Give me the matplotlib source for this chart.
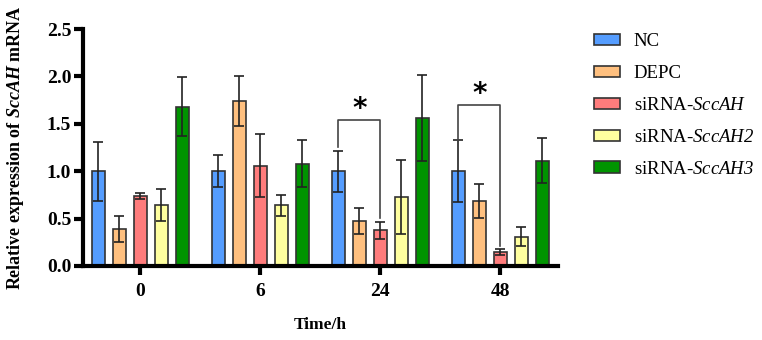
import numpy as np
import matplotlib
matplotlib.use("Agg")
import matplotlib.pyplot as plt
from matplotlib.patches import Patch

plt.rcParams['font.family'] = ['Liberation Serif', 'DejaVu Serif']
plt.rcParams['mathtext.fontset'] = 'custom'
plt.rcParams['mathtext.rm'] = 'Liberation Serif:italic'
plt.rcParams['mathtext.it'] = 'Liberation Serif:italic'
plt.rcParams['mathtext.bf'] = 'Liberation Serif:bold'
plt.rcParams['mathtext.bfit'] = 'Liberation Serif:italic:bold'

# ---- data ----
time_labels = ['0', '6', '24', '48']
series_names = ['NC', 'DEPC', 'siRNA-SccAH', 'siRNA-SccAH2', 'siRNA-SccAH3']
legend_labels = ['NC', 'DEPC', r'siRNA-$\mathit{SccAH}$', r'siRNA-$\mathit{SccAH2}$', r'siRNA-$\mathit{SccAH3}$']
nc_mean = [1.00, 1.00, 1.00, 1.00]
nc_err = [0.31, 0.17, 0.215, 0.325]
depc_mean = [0.39, 1.74, 0.475, 0.69]
depc_err = [0.14, 0.26, 0.14, 0.18]
sih1_mean = [0.74, 1.06, 0.377, 0.148]
sih1_err = [0.03, 0.33, 0.09, 0.03]
sih2_mean = [0.64, 0.64, 0.725, 0.31]
sih2_err = [0.17, 0.11, 0.39, 0.10]
sih3_mean = [1.68, 1.08, 1.56, 1.11]
sih3_err = [0.31, 0.25, 0.45, 0.235]

# significance brackets: group index, bracket height, left/right leg ends
sig_groups = [2, 3]
sig_height = [1.545, 1.70]
sig_left_end = [1.26, 1.32]
sig_right_end = [0.51, 0.21]
sig_text = ['*', '*']

colors = ['#559DFF', '#FFC07F', '#FF7C7C', '#FFFF9F', '#009400']

means = [nc_mean, depc_mean, sih1_mean, sih2_mean, sih3_mean]
errs = [nc_err, depc_err, sih1_err, sih2_err, sih3_err]

fig = plt.figure(figsize=(7.62, 3.40), dpi=100)
ax = fig.add_axes([83/762, 1-266/340, 475/762, 237/340])

x = np.arange(len(time_labels))
pitch = 0.175
width = 0.114
offsets = (np.arange(5) - 2) * pitch

for i in range(5):
    ax.bar(x + offsets[i], means[i], width=width, color=colors[i],
           edgecolor='#333333', linewidth=1.2, zorder=2)
    ax.errorbar(x + offsets[i], means[i], yerr=errs[i], fmt='none',
                ecolor='#222222', elinewidth=1.2, capsize=3.5, capthick=1.2, zorder=3)

for g, h, le, re, t in zip(sig_groups, sig_height, sig_left_end, sig_right_end, sig_text):
    xl = g + offsets[0]
    xr = g + offsets[2]
    ax.plot([xl, xl, xr, xr], [le, h, h, re], color='#444444', lw=1.2, zorder=3)
    ax.text((xl + xr) / 2, h + 0.11, t, ha='center', va='center',
            fontsize=20, fontweight='bold', family='DejaVu Sans')

ax.set_xlim(-0.478, 3.48)
ax.set_ylim(0, 2.5)
ax.set_yticks([0, 0.5, 1.0, 1.5, 2.0, 2.5])
ax.set_yticklabels(['0.0', '0.5', '1.0', '1.5', '2.0', '2.5'])
ax.set_xticks(x)
ax.set_xticklabels(time_labels)

for s in ['top', 'right']:
    ax.spines[s].set_visible(False)
for s in ['left', 'bottom']:
    ax.spines[s].set_linewidth(3)
ax.tick_params(axis='both', width=3, length=6.5, labelsize=14)
ax.tick_params(axis='y', pad=2)
ax.tick_params(axis='x', pad=6)
for lab in ax.get_xticklabels() + ax.get_yticklabels():
    lab.set_fontweight('bold')

ax.set_xlabel('Time/h', fontsize=12.5, fontweight='bold')
ax.xaxis.set_label_coords(0.5, -0.215)
ax.set_ylabel(r'Relative expression of $\mathbfit{SccAH}$ mRNA', fontsize=13, fontweight='bold')
ax.yaxis.set_label_coords(-0.12, 0.5)

handles = [Patch(facecolor=c, edgecolor='#333333', linewidth=1.2) for c in colors]
fig.legend(handles, legend_labels, loc='upper left', bbox_to_anchor=(585/762, 1-24/340),
           frameon=False, fontsize=13.5, handlelength=1.35, handleheight=0.55,
           handletextpad=0.75, labelspacing=0.79, borderpad=0)

fig.savefig('out.png', dpi=100)
